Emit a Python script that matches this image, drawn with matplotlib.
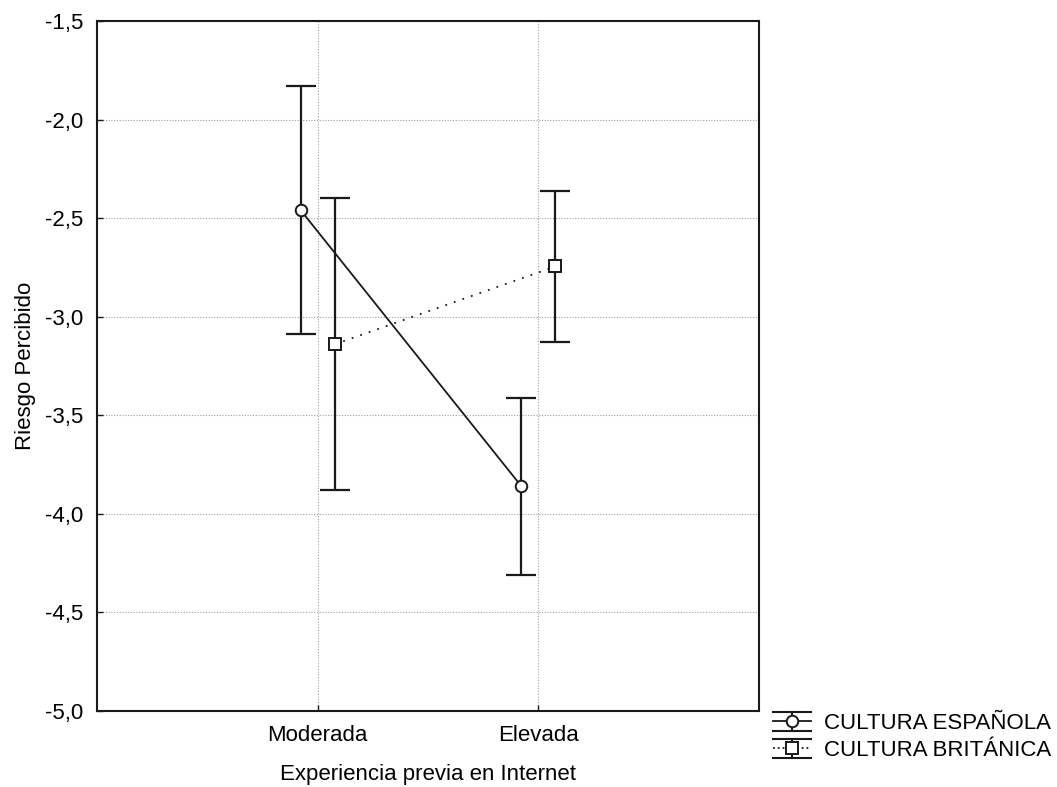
import matplotlib
matplotlib.use("Agg")
import matplotlib.pyplot as plt
from matplotlib.lines import Line2D
from matplotlib.legend_handler import HandlerBase
from matplotlib.ticker import FuncFormatter, MultipleLocator

plt.rcParams["font.family"] = ["Liberation Sans", "DejaVu Sans"]

# Data: mean perceived risk with confidence-interval bounds
categories = ["Moderada", "Elevada"]
series_names = ["CULTURA ESPAÑOLA", "CULTURA BRITÁNICA"]
esp_mean = [-2.46, -3.86]
esp_upper = [-1.83, -3.41]
esp_lower = [-3.09, -4.31]
brit_mean = [-3.14, -2.745]
brit_upper = [-2.40, -2.36]
brit_lower = [-3.88, -3.13]

INK = "#1a1a1a"
FS = 16
CIRCLE_MS = 8.3
SQUARE_MS = 8.3

fig = plt.figure(figsize=(10.57, 7.87), dpi=100)
ax = fig.add_axes([0.0918, 0.0966, 0.6263, 0.8767])

x = list(range(len(categories)))
offset = 0.077


def draw_series(xs, mean, lo, hi, marker, ms, ls):
    yerr = [[m - l for m, l in zip(mean, lo)], [h - m for m, h in zip(mean, hi)]]
    ax.errorbar(xs, mean, yerr=yerr, fmt="none", ecolor=INK, elinewidth=1.6,
                capsize=11, capthick=1.6, zorder=3)
    ax.plot(xs, mean, color=INK, linestyle=ls, linewidth=1.3, zorder=4)
    ax.plot(xs, mean, linestyle="none", marker=marker, markersize=ms,
            markerfacecolor="white", markeredgecolor=INK, markeredgewidth=1.4,
            zorder=5)


draw_series([v - offset for v in x], esp_mean, esp_lower, esp_upper, "o",
            CIRCLE_MS, "-")
draw_series([v + offset for v in x], brit_mean, brit_lower, brit_upper, "s",
            SQUARE_MS, (0, (1, 4)))

ax.set_xlim(-1, 2)
ax.set_ylim(-5.0, -1.5)
ax.set_xticks(x)
ax.set_xticklabels(categories)
ax.yaxis.set_major_locator(MultipleLocator(0.5))
ax.yaxis.set_major_formatter(FuncFormatter(lambda v, p: f"{v:.1f}".replace(".", ",")))
ax.tick_params(direction="in", length=4, width=1, color=INK, labelsize=FS,
               pad=10, labelcolor="black")
ax.grid(True, color="#a0a0a0", linestyle=(0, (1, 1.5)), linewidth=0.8)
ax.set_axisbelow(True)
for s in ax.spines.values():
    s.set_linewidth(1.5)
    s.set_color(INK)

ax.set_xlabel("Experiencia previa en Internet", fontsize=FS, labelpad=13)
ax.set_ylabel("Riesgo Percibido", fontsize=FS, labelpad=6)


class CappedErrorbarHandler(HandlerBase):
    def create_artists(self, legend, orig_handle, xdescent, ydescent, width,
                       height, fontsize, trans):
        cy = height / 2 - ydescent
        half = height * 0.6
        x0, x1 = -xdescent, -xdescent + width
        xc = (x0 + x1) / 2
        arts = []
        for yy in (cy - half, cy + half):
            arts.append(Line2D([x0, x1], [yy, yy], color=INK, linewidth=1.5))
        arts.append(Line2D([xc, xc], [cy - half, cy + half], color=INK, linewidth=1.5))
        arts.append(Line2D([x0, x1], [cy, cy], color=INK, linewidth=1.3,
                           linestyle=orig_handle.get_linestyle()))
        arts.append(Line2D([xc], [cy], linestyle="none",
                           marker=orig_handle.get_marker(),
                           markersize=orig_handle.get_markersize(),
                           markerfacecolor="white", markeredgecolor=INK,
                           markeredgewidth=1.4))
        for a in arts:
            a.set_transform(trans)
        return arts


h_esp = Line2D([], [], color=INK, linestyle="-", marker="o", markersize=CIRCLE_MS)
h_brit = Line2D([], [], color=INK, linestyle=":", marker="s", markersize=SQUARE_MS)
fig.legend([h_esp, h_brit], series_names, loc="upper left",
           bbox_to_anchor=(773 / 1057, 1 - 713 / 787), frameon=False,
           fontsize=FS, handler_map={Line2D: CappedErrorbarHandler()},
           handlelength=1.7, handletextpad=0.6, labelspacing=0.28,
           borderpad=0.0, borderaxespad=0.0)

fig.savefig("out.png", dpi=100, facecolor="white")
